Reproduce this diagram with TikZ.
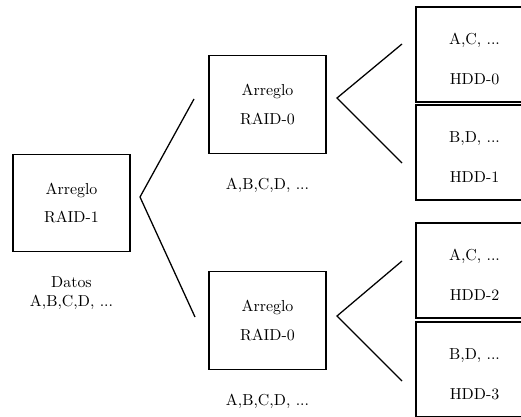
\documentclass[tikz,border=0pt]{standalone}
\usepackage{tikz}
\usetikzlibrary{positioning}

\begin{document}
\begin{tikzpicture}[x=0.0221cm,y=-0.0221cm,thick,node distance=0.4cm,
  raid node/.style={rectangle,draw,minimum width=2.59cm,minimum height=2.15cm,align=center},
  disk node/.style={rectangle,draw,minimum width=2.59cm,minimum height=2.1cm,align=center,text height=37.8pt}]
  \useasboundingbox (0,0) rectangle (521,416);
  \clip (0,0) rectangle (521,416);

  % arreglos
  \node[raid node] (r1) at (71.5,203) {Arreglo\\[6pt]RAID-1};
  \node[raid node] (r0a) at (267.5,104.5) {Arreglo\\[6pt]RAID-0};
  \node[raid node] (r0b) at (267.5,320.5) {Arreglo\\[6pt]RAID-0};
  \node[align=center] (datos) [below=of r1] {Datos\\A,B,C,D, ...};
  \node (da) [below=of r0a] {A,B,C,D, ...};
  \node (db) [below=of r0b] {A,B,C,D, ...};

  % discos
  \node[disk node] (hdd0) at (474.5,54.5) {A,C, ...\\[13pt]HDD-0};
  \node[disk node] (hdd1) at (474.5,152.5) {B,D, ...\\[13pt]HDD-1};
  \node[disk node] (hdd2) at (474.5,270.5) {A,C, ...\\[13pt]HDD-2};
  \node[disk node] (hdd3) at (474.5,369.5) {B,D, ...\\[13pt]HDD-3};

  % llaves
  \coordinate (t1) at (194,99);
  \coordinate (v1) at (140,197);
  \coordinate (b1) at (195,317);
  \coordinate (t2) at (402,44);
  \coordinate (v2) at (337,98);
  \coordinate (b2) at (402,163);
  \coordinate (t3) at (402,261);
  \coordinate (v3) at (337,316);
  \coordinate (b3) at (402,381);
  \draw (t1) -- (v1) -- (b1);
  \draw (t2) -- (v2) -- (b2);
  \draw (t3) -- (v3) -- (b3);
\end{tikzpicture}
\end{document}
